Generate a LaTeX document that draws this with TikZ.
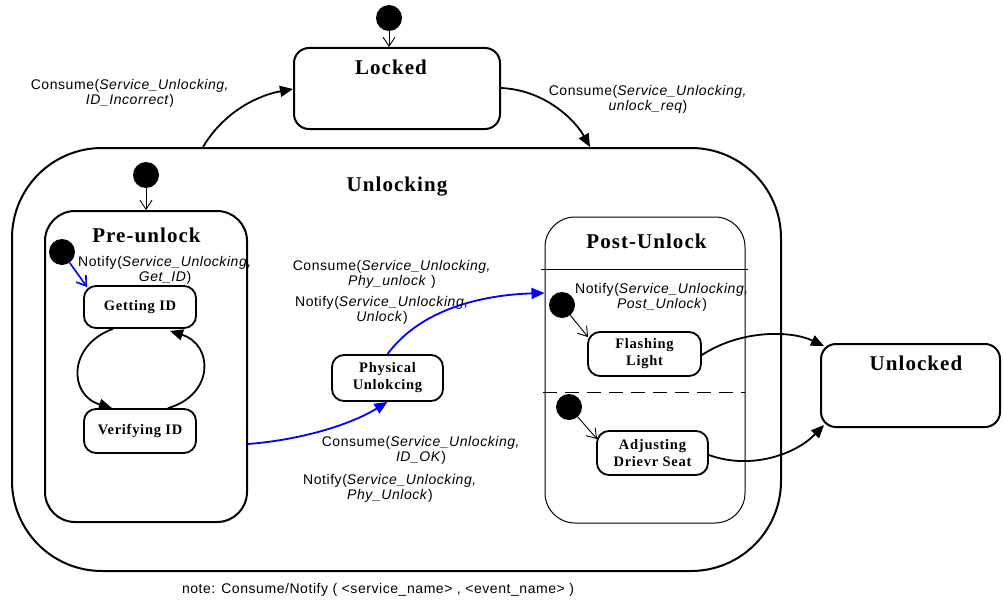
\documentclass[tikz,border=0pt]{standalone}
\usepackage{fontspec}
\setmainfont{Liberation Serif}[LetterSpace=5]
\setsansfont{Liberation Sans}[LetterSpace=4]
\usetikzlibrary{arrows.meta,calc}

\begin{document}
\begin{tikzpicture}[x=1pt,y=-1pt,
  statebox/.style={draw, line width=1.8pt, rounded corners=12pt, inner sep=0pt,
    align=center, font=\bfseries\fontsize{14.5}{17}\selectfont},
  bigbox/.style={draw, line width=2pt, inner sep=0pt},
  title/.style={font=\bfseries\fontsize{21}{24}\selectfont, inner sep=0pt},
  initdot/.style={circle, fill=black, minimum size=26pt, inner sep=0pt},
  initarrow/.style={line width=0.9pt, -{Straight Barb[length=9pt,width=12pt]}},
  trans/.style={line width=1.8pt, -{Triangle[length=13pt,width=11pt]}},
  lbl/.style={font=\sffamily\fontsize{14}{15}\selectfont, align=center, inner sep=0pt}
]
\useasboundingbox (0,0) rectangle (1003,602);

% top-level states
\node[bigbox, rounded corners=15pt, minimum width=206pt, minimum height=81pt] (locked) at (397,88.5) {};
\node[title] at (391,67) {Locked};
\node[bigbox, rounded corners=90pt, minimum width=769pt, minimum height=423pt] (unl) at (396.5,359.5) {};
\node[title] at (397,187) {Unlocking};
\node[bigbox, rounded corners=15pt, minimum width=179pt, minimum height=83pt] (unlk) at (910.5,385.5) {};
\node[title] at (916,363) {Unlocked};

% Pre-unlock composite state
\node[bigbox, rounded corners=30pt, minimum width=202pt, minimum height=311pt] (pre) at (146,366.5) {};
\node[title] at (146.5,235) {Pre-unlock};
\node[statebox, minimum width=112pt, minimum height=42pt] (get) at (140,307) {Getting ID};
\node[statebox, minimum width=112pt, minimum height=44pt] (ver) at (140,431) {Verifying ID};

% Physical unlocking
\node[statebox, minimum width=111pt, minimum height=46pt] (phys) at (387.5,378) {Physical\\Unlokcing};

% Post-Unlock concurrent state
\node[draw, line width=1pt, rounded corners=30pt, inner sep=0pt, minimum width=200pt, minimum height=306pt] (post) at (645,370) {};
\node[title] at (646.5,241) {Post-Unlock};
\draw[line width=0.9pt] (541,269) -- (748,269);
\draw[line width=0.9pt, dash pattern=on 14pt off 8pt] (543,392) -- (745,392);
\node[statebox, minimum width=113pt, minimum height=44pt] (flash) at (644.5,354) {Flashing\\Light};
\node[statebox, minimum width=111pt, minimum height=44pt] (adj) at (652.5,453) {Adjusting\\Drievr Seat};

% initial pseudo-states
\node[initdot] (dtop) at (389,18) {};
\node[initdot] (dunl) at (146,175) {};
\node[initdot] (dpre) at (62,252) {};
\node[initdot] (dpost1) at (562,305) {};
\node[initdot] (dpost2) at (569,407) {};

\draw[initarrow] (dtop) -- (dtop |- locked.north);
\draw[initarrow] (dunl) -- (pre.north);
\draw[initarrow, draw=blue, line width=1.6pt] (dpre) -- ($(get.north west)+(4,2)$);
\draw[initarrow] (dpost1) -- ($(flash.north west)+(1,6)$);
\draw[initarrow] (dpost2) -- ($(adj.north west)+(1,9)$);

% transitions
\draw[trans] ($(unl.north)+(-193.5,0)$) .. controls (225,110) and (260,95) .. ($(locked.west)+(0,0.5)$);
\draw[trans] ($(locked.east)+(0,-0.5)$) .. controls (545,90) and (575,120) .. ($(unl.north)+(193.5,0)$);
\draw[trans] ($(get.south)+(-27,0)$) .. controls (68,345) and (68,395) .. ($(ver.north)+(-28,0)$);
\draw[trans] ($(ver.north)+(28,0)$) .. controls (214,395) and (214,345) .. ($(get.south)+(30,2)$);
\draw[trans, draw=blue] ($(pre.east)+(0,77.5)$) .. controls (300,440) and (350,425) .. (phys.south);
\draw[trans, draw=blue] (phys.north) .. controls (420,310) and (480,295) .. ($(post.west)+(0,-77)$);
\draw[trans] ($(flash.east)+(0,1)$) .. controls (740,330) and (790,330) .. ($(unlk.north west)+(4,3)$);
\draw[trans] ($(adj.east)+(0,2)$) .. controls (750,470) and (795,455) .. ($(unlk.south west)+(4,-3)$);

% event labels
\node[lbl] at (130,93) {Consume(\textit{Service\_Unlocking,}\\\textit{ID\_Incorrect})};
\node[lbl] at (648,99) {Consume(\textit{Service\_Unlocking,}\\\textit{unlock\_req})};
\node[lbl] at (165,270) {Notify(\textit{Service\_Unlocking,}\\\textit{Get\_ID})};
\node[lbl] at (392,274) {Consume(\textit{Service\_Unlocking,}\\\textit{Phy\_unlock} )};
\node[lbl] at (382,310) {Notify(\textit{Service\_Unlocking,}\\\textit{Unlock})};
\node[lbl] at (421,450) {Consume(\textit{Service\_Unlocking,}\\\textit{ID\_OK})};
\node[lbl] at (390,488) {Notify(\textit{Service\_Unlocking,}\\\textit{Phy\_Unlock})};
\node[lbl] at (662,297) {Notify(\textit{Service\_Unlocking,}\\\textit{Post\_Unlock})};

\node[lbl] (note) at (378,590) {note: Consume/Notify ( <service\_name> , <event\_name> )};
\end{tikzpicture}
\end{document}
